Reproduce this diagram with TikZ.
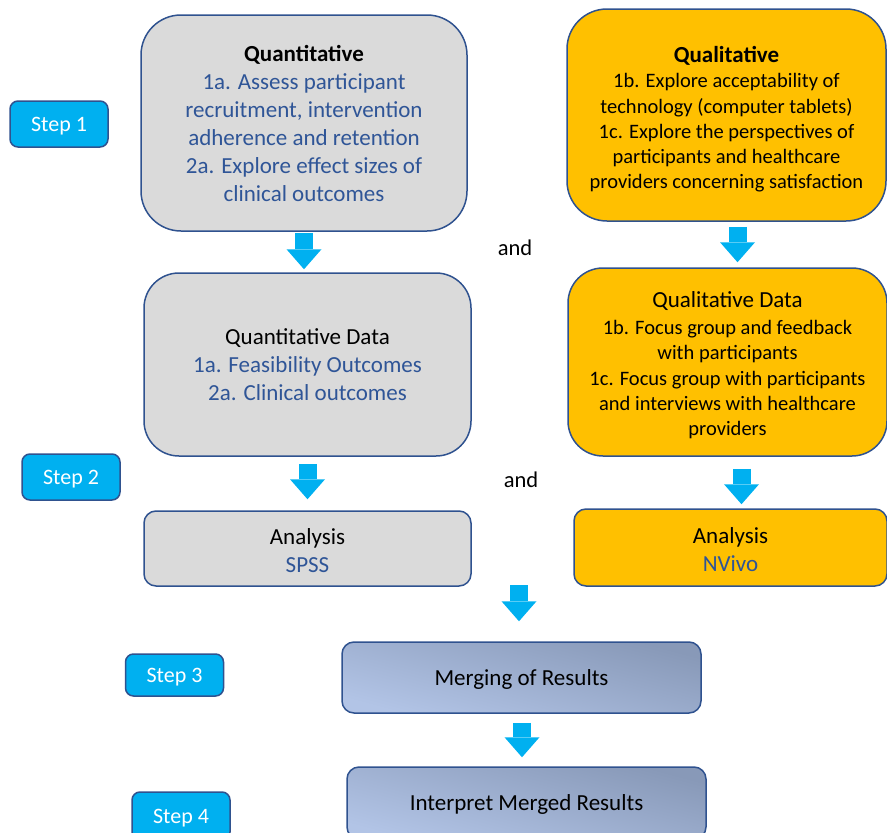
\documentclass[tikz,border=0pt]{standalone}
\usepackage{fontspec}
\setmainfont{Carlito}
\usetikzlibrary{arrows.meta}
\definecolor{stepcyan}{RGB}{0,176,240}
\definecolor{edgeblue}{RGB}{47,82,143}
\definecolor{textblue}{RGB}{47,85,151}
\definecolor{boxgray}{RGB}{218,218,218}
\definecolor{boxgold}{RGB}{255,192,0}
\definecolor{mergelight}{RGB}{178,196,230}
\definecolor{mergedark}{RGB}{136,153,184}

\begin{document}
\begin{tikzpicture}[x=1pt,y=-1pt,
    box/.style={draw=edgeblue, line width=1.5pt, align=center, inner sep=0pt},
    stepbox/.style={box, fill=stepcyan, rounded corners=8pt, minimum width=98pt, minimum height=46pt,
        text=white, text depth=0pt, font=\fontsize{22}{26}\selectfont},
    quanbox/.style={box, fill=boxgray, text=textblue},
    qualbox/.style={box, fill=boxgold},
    mergebox/.style={box, rounded corners=12pt, bottom color=mergelight, top color=mergedark,
        shading angle=-15, minimum width=359pt, text depth=0pt, font=\fontsize{23}{27}\selectfont},
    bigtext/.style={font=\fontsize{23}{28}\selectfont},
    smalltext/.style={font=\fontsize{20.5}{25.3}\selectfont},
    andtext/.style={font=\fontsize{22.5}{26}\selectfont},
    blockarrow/.style={draw=stepcyan, line width=18pt, -{Triangle[length=20pt,width=35pt,line width=0pt]}}
]
    \useasboundingbox (0,0) rectangle (887,833);

    % steps on the left
    \node[stepbox]                         (st1) at ( 59.0,124.0) {Step 1};
    \node[stepbox]                         (st2) at ( 71.0,477.0) {Step 2};
    \node[stepbox, minimum height=42pt]    (st3) at (174.5,675.0) {Step 3};
    \node[stepbox, minimum height=48pt]    (st4) at (181.0,816.0) {Step 4};

    % row 1: aims
    \node[quanbox, bigtext, rounded corners=40pt, minimum width=326pt, minimum height=216pt] (qn) at (304.0,123.0)
        {{\color{black}\textbf{Quantitative}}\\1a. Assess participant\\recruitment, intervention\\adherence and retention\\2a. Explore effect sizes of\\clinical outcomes};
    \node[qualbox, smalltext, rounded corners=40pt, minimum width=319pt, minimum height=212pt] (ql) at (726.5,115.0)
        {{\fontsize{23}{27}\selectfont\rule{0pt}{25pt}\textbf{Qualitative}}\\1b. Explore acceptability of\\technology (computer tablets)\\1c. Explore the perspectives of\\participants and healthcare\\providers concerning satisfaction};
    \node[andtext] (and1) at (515.0,248.0) {and};

    % row 2: data
    \node[quanbox, bigtext, rounded corners=35pt, minimum width=327pt, minimum height=183pt] (qnd) at (307.5,364.5)
        {{\color{black}Quantitative Data}\\1a. Feasibility Outcomes\\2a. Clinical outcomes};
    \node[qualbox, smalltext, rounded corners=35pt, minimum width=319pt, minimum height=188pt] (qld) at (727.5,362.0)
        {{\fontsize{23}{27}\selectfont\rule{0pt}{22pt}Qualitative Data}\\[2pt]1b. Focus group and feedback\\with participants\\1c. Focus group with participants\\and interviews with healthcare\\providers};
    \node[andtext] (and2) at (521.0,480.0) {and};

    % row 3: analysis
    \node[quanbox, bigtext, rounded corners=12pt, minimum width=327pt, minimum height=75pt] (an1) at (307.5,548.5)
        {{\color{black}\rule{0pt}{20pt}Analysis}\\SPSS};
    \node[qualbox, bigtext, rounded corners=12pt, minimum width=313pt, minimum height=77pt, text=textblue] (an2) at (730.5,547.5)
        {{\color{black}\rule{0pt}{20pt}Analysis}\\NVivo};

    % merged results
    \node[mergebox, minimum height=71pt] (mg) at (521.5,677.5) {Merging of Results};
    \node[mergebox, minimum height=72pt] (ip) at (526.5,803.0) {Interpret Merged Results};
    \coordinate (join) at (519.0,585.0);

    % arrows
    \draw[blockarrow] ([yshift=-1pt]qn.south)                -- ([yshift=3pt]qn.south |- qnd.north);
    \draw[blockarrow] ([xshift=11pt,yshift=-5pt]ql.south)    -- ([xshift=11pt,yshift=5pt]ql.south |- qld.north);
    \draw[blockarrow] ([yshift=-7pt]qnd.south)               -- ([yshift=11pt]qnd.south |- an1.north);
    \draw[blockarrow] ([xshift=14pt,yshift=-12pt]qld.south)  -- ([xshift=14pt,yshift=4pt]qld.south |- an2.north);
    \draw[blockarrow] (join)                                 -- ([yshift=20pt]join |- mg.north);
    \draw[blockarrow] ([xshift=0.5pt,yshift=-9pt]mg.south)   -- ([xshift=0.5pt,yshift=9pt]mg.south |- ip.north);
\end{tikzpicture}
\end{document}
